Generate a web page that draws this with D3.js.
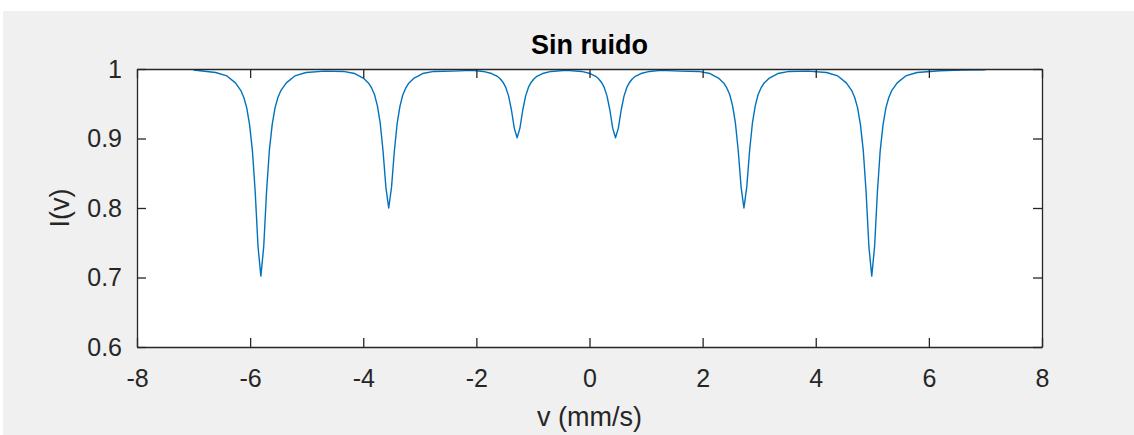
<!DOCTYPE html>
<html>
<head>
<meta charset="utf-8">
<script src="https://cdn.jsdelivr.net/npm/d3@7"></script>
<style>
  html, body { margin: 0; padding: 0; background: #ffffff; }
  svg { display: block; }
  text { font-family: "Liberation Sans", Arial, Helvetica, sans-serif; }
</style>
</head>
<body>
<svg id="chart" width="1134" height="435"></svg>
<script>
// Mössbauer sextet, noise-free transmission spectrum
const velocity = [
  -7.00, -6.61, -6.41, -6.26, -6.16, -6.11, -6.06, -6.01, -5.96, -5.91, -5.86, -5.81,
  -5.76, -5.71, -5.66, -5.61, -5.56, -5.51, -5.46, -5.36, -5.21, -5.01, -4.68,
  -4.35, -4.15, -4.00, -3.90, -3.85, -3.80, -3.75, -3.70, -3.65, -3.60, -3.55,
  -3.50, -3.45, -3.40, -3.35, -3.30, -3.25, -3.20, -3.10, -2.95, -2.75, -2.415,
  -2.08, -1.88, -1.73, -1.63, -1.58, -1.53, -1.48, -1.43, -1.38, -1.33, -1.28,
  -1.23, -1.18, -1.13, -1.08, -1.03, -0.98, -0.93, -0.83, -0.68, -0.41,
  -0.14, 0.01, 0.11, 0.16, 0.21, 0.26, 0.31, 0.36, 0.41, 0.46,
  0.51, 0.56, 0.61, 0.66, 0.71, 0.76, 0.81, 0.91, 1.06, 1.26, 1.595,
  1.93, 2.13, 2.28, 2.38, 2.43, 2.48, 2.53, 2.58, 2.63, 2.68, 2.73,
  2.78, 2.83, 2.88, 2.93, 2.98, 3.03, 3.08, 3.18, 3.33, 3.53, 3.86,
  4.19, 4.39, 4.54, 4.64, 4.69, 4.74, 4.79, 4.84, 4.89, 4.94, 4.99,
  5.04, 5.09, 5.14, 5.19, 5.24, 5.29, 5.34, 5.44, 5.59, 5.79, 6.20, 6.60, 7.00
];
const intensity = [
  0.9985, 0.995, 0.990, 0.980, 0.9685, 0.9586, 0.944, 0.920, 0.883, 0.823, 0.744, 0.702,
  0.744, 0.823, 0.883, 0.920, 0.944, 0.9586, 0.9685, 0.980, 0.990, 0.995, 0.997,
  0.9965, 0.9935, 0.987, 0.979, 0.9724, 0.963, 0.947, 0.922, 0.882, 0.830, 0.800,
  0.830, 0.882, 0.922, 0.947, 0.963, 0.9724, 0.979, 0.987, 0.9935, 0.9965, 0.997,
  0.998, 0.9965, 0.9935, 0.9895, 0.986, 0.981, 0.9735, 0.961, 0.941, 0.915, 0.901,
  0.915, 0.941, 0.961, 0.9735, 0.981, 0.986, 0.9895, 0.9935, 0.9965, 0.998,
  0.9965, 0.9935, 0.9895, 0.986, 0.981, 0.9735, 0.961, 0.941, 0.915, 0.901,
  0.915, 0.941, 0.961, 0.9735, 0.981, 0.986, 0.9895, 0.9935, 0.9965, 0.998, 0.997,
  0.9965, 0.9935, 0.987, 0.979, 0.9724, 0.963, 0.947, 0.922, 0.882, 0.830, 0.800,
  0.830, 0.882, 0.922, 0.947, 0.963, 0.9724, 0.979, 0.987, 0.9935, 0.9965, 0.997,
  0.995, 0.990, 0.980, 0.9685, 0.9586, 0.944, 0.920, 0.883, 0.823, 0.744, 0.702,
  0.744, 0.823, 0.883, 0.920, 0.944, 0.9586, 0.9685, 0.980, 0.990, 0.995, 0.9975, 0.9985, 0.999
];
const xTicks = [-8, -6, -4, -2, 0, 2, 4, 6, 8];
const yTicks = [0.6, 0.7, 0.8, 0.9, 1];
const titleText = "Sin ruido";
const xLabelText = "v (mm/s)";
const yLabelText = "I(v)";

const svg = d3.select("#chart");
const W = 1134, H = 435;
const box = { left: 137, right: 1042, top: 69, bottom: 347 };
const axisColor = "#262626";
const tickLen = 9;

// figure background
svg.append("rect").attr("x", 3).attr("y", 11).attr("width", W - 3).attr("height", H - 11)
  .attr("fill", "#f0f0f0");

const x = d3.scaleLinear().domain([-8, 8]).range([box.left, box.right]);
const y = d3.scaleLinear().domain([0.6, 1]).range([box.bottom, box.top]);

// plot area
svg.append("rect")
  .attr("x", box.left).attr("y", box.top)
  .attr("width", box.right - box.left).attr("height", box.bottom - box.top)
  .attr("fill", "#ffffff");

const pts = velocity.map((v, i) => [v, intensity[i]]);
svg.append("path")
  .datum(pts)
  .attr("fill", "none")
  .attr("stroke", "#0072BD")
  .attr("stroke-width", 1.4)
  .attr("stroke-linejoin", "round")
  .attr("d", d3.line().x(d => x(d[0])).y(d => y(d[1])));

// axes (inward ticks, box on); labels use a plain hyphen for negatives
const fmtX = d => String(d);
const fmtY = d => d === 1 ? "1" : d3.format(".1f")(d);
const bottomAxis = d3.axisBottom(x).tickValues(xTicks).tickSizeInner(-tickLen).tickSizeOuter(0).tickPadding(22).tickFormat(fmtX);
const topAxis = d3.axisTop(x).tickValues(xTicks).tickSizeInner(-tickLen).tickSizeOuter(0).tickFormat("");
const leftAxis = d3.axisLeft(y).tickValues(yTicks).tickSizeInner(-tickLen).tickSizeOuter(0).tickPadding(15).tickFormat(fmtY);
const rightAxis = d3.axisRight(y).tickValues(yTicks).tickSizeInner(-tickLen).tickSizeOuter(0).tickFormat("");

function style(g) {
  g.attr("font-size", null).attr("font-family", null);
  g.select(".domain").attr("stroke", axisColor).attr("stroke-width", 1.3);
  g.selectAll(".tick line").attr("stroke", axisColor).attr("stroke-width", 1.3);
  g.selectAll(".tick text").attr("fill", axisColor).style("font-size", "25px")
    .style("font-family", '"Liberation Sans", Arial, sans-serif');
}
svg.append("g").attr("transform", `translate(0,${box.bottom})`).call(bottomAxis).call(style);
svg.append("g").attr("transform", `translate(0,${box.top})`).call(topAxis).call(style);
svg.append("g").attr("transform", `translate(${box.left},0)`).call(leftAxis).call(style);
svg.append("g").attr("transform", `translate(${box.right},0)`).call(rightAxis).call(style);

// title and axis labels
svg.append("text").attr("x", (box.left + box.right) / 2).attr("y", 54)
  .attr("text-anchor", "middle").attr("fill", "#000").style("font-size", "27px")
  .style("font-weight", "bold").text(titleText);
svg.append("text").attr("x", (box.left + box.right) / 2).attr("y", 426)
  .attr("text-anchor", "middle").attr("fill", axisColor).style("font-size", "27px")
  .text(xLabelText);
svg.append("text").attr("transform", `translate(69,${(box.top + box.bottom) / 2}) rotate(-90)`)
  .attr("text-anchor", "middle").attr("fill", axisColor).style("font-size", "27px")
  .text(yLabelText);
</script>
</body>
</html>
